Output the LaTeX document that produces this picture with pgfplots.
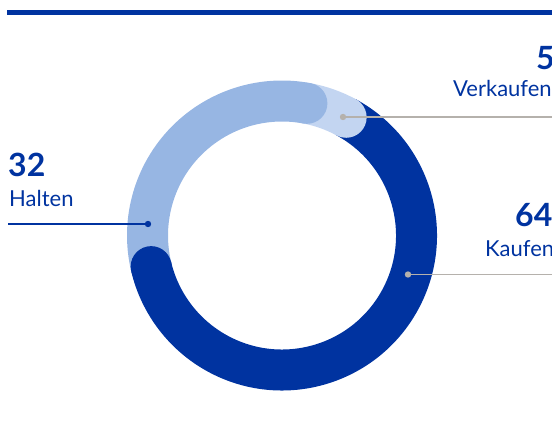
\documentclass[border=0pt]{standalone}
\usepackage{pgfplots}
\pgfplotsset{compat=1.18}
\usepackage{fontspec}
\setmainfont{Lato}
\definecolor{dblue}{HTML}{0033A0}
\definecolor{lblue}{HTML}{97B6E3}
\definecolor{vlblue}{HTML}{C3D5F1}
\definecolor{lgray}{HTML}{B5B1AC}
% data
\def\vKaufen{64}
\def\vHalten{32}
\def\vVerkaufen{5}
\begin{document}
\begin{tikzpicture}
\useasboundingbox (0,0) rectangle (552bp,439bp);
\clip (0,0) rectangle (552bp,439bp);
\begin{axis}[at={(0,0)}, anchor=origin, scale only axis, width=552bp, height=439bp,
  xmin=0, xmax=552, ymin=0, ymax=439, hide axis, clip=false]
\pgfmathsetmacro{\tot}{\vKaufen+\vHalten+\vVerkaufen}
\pgfmathsetmacro{\aK}{61.5}
\pgfmathsetmacro{\aKe}{\aK-\vKaufen/\tot*360}
\pgfmathsetmacro{\aHe}{\aKe-\vHalten/\tot*360}
\pgfmathsetmacro{\aVe}{\aHe-\vVerkaufen/\tot*360}
% top rule
\draw[dblue, line width=5bp] (axis cs:7,426.5) -- (axis cs:560,426.5);
% ring segments
\draw[dblue, line width=41bp] (axis cs:282,203.5) ++(\aK:134.5bp) arc[start angle=\aK, end angle=\aKe, radius=134.5bp];
\draw[lblue, line width=41bp] (axis cs:282,203.5) ++(\aKe:134.5bp) arc[start angle=\aKe, end angle=\aHe, radius=134.5bp];
\draw[vlblue, line width=41bp] (axis cs:282,203.5) ++(\aHe:134.5bp) arc[start angle=\aHe, end angle=\aVe, radius=134.5bp];
% round caps
\fill[dblue] (axis cs:282,203.5) ++(\aKe:134.5bp) circle[radius=20.5bp];
\fill[lblue] (axis cs:282,203.5) ++(\aHe:134.5bp) circle[radius=20.5bp];
\fill[vlblue] (axis cs:282,203.5) ++(\aVe:134.5bp) circle[radius=20.5bp];
% leaders
\draw[dblue, line width=1.3bp] (axis cs:8,215) -- (axis cs:148,215);
\fill[dblue] (axis cs:148,215) circle[radius=3.2bp];
\draw[lgray, line width=1.3bp] (axis cs:343,322) -- (axis cs:560,322);
\fill[lgray] (axis cs:343,322) circle[radius=3.2bp];
\draw[lgray, line width=1.3bp] (axis cs:408,164.5) -- (axis cs:560,164.5);
\fill[lgray] (axis cs:408,164.5) circle[radius=3.2bp];
% labels
\node[anchor=base west, inner sep=0, text=dblue, font=\fontsize{32bp}{32bp}\bfseries] at (axis cs:8,262) {\vHalten};
\node[anchor=base west, inner sep=0, text=dblue, font=\fontsize{22bp}{22bp}\selectfont] at (axis cs:9,232) {Halten};
\node[anchor=base west, inner sep=0, text=dblue, font=\fontsize{32bp}{32bp}\bfseries] at (axis cs:536,369) {\vVerkaufen};
\node[anchor=base west, inner sep=0, text=dblue, font=\fontsize{22bp}{22bp}\selectfont] at (axis cs:453,342) {Verkaufen};
\node[anchor=base west, inner sep=0, text=dblue, font=\fontsize{32bp}{32bp}\bfseries] at (axis cs:515,212) {\vKaufen};
\node[anchor=base west, inner sep=0, text=dblue, font=\fontsize{22bp}{22bp}\selectfont] at (axis cs:485,182) {Kaufen};
\end{axis}
\end{tikzpicture}
\end{document}
